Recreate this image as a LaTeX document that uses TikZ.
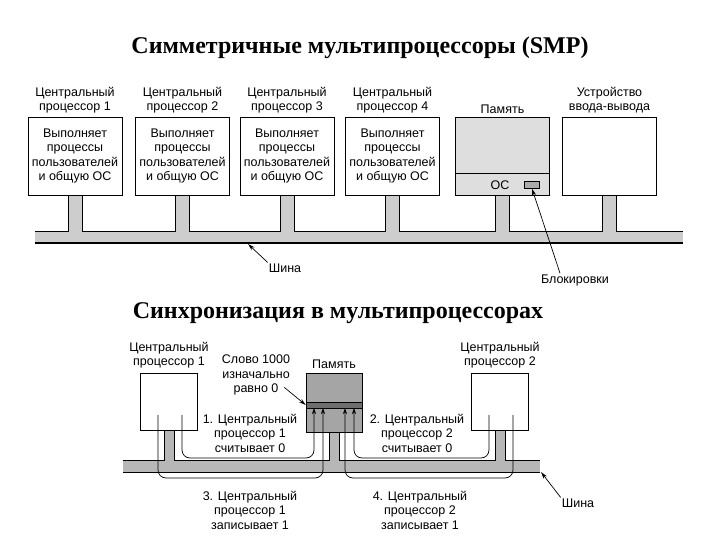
\documentclass[tikz,border=0pt]{standalone}
\usepackage{fontspec}
\setmainfont{Liberation Serif}
\newfontfamily\labelfont{Liberation Sans}
\usetikzlibrary{arrows.meta, positioning}
\definecolor{busgray}{RGB}{205,205,205}
\definecolor{memgray}{RGB}{222,222,222}
\definecolor{dotgray}{RGB}{165,165,165}
\definecolor{bandgray}{RGB}{110,110,110}

\begin{document}
\begin{tikzpicture}[x=1pt, y=-1pt,
          node distance=3pt,
          box/.style={draw, line width=0.8pt, minimum width=94pt, minimum height=78pt,
                      inner sep=0pt, align=center, font=\labelfont\fontsize{12.5}{14.3}\selectfont},
          smallbox/.style={draw, line width=0.8pt, minimum width=57pt, minimum height=57pt, inner sep=0pt},
          lbl/.style={inner sep=1pt, align=center, font=\labelfont\fontsize{12.5}{14.5}\selectfont},
          ttl/.style={inner sep=0pt, font=\bfseries\fontsize{24}{28}\selectfont},
          busbar/.style={minimum height=11pt, inner sep=0pt},
          ptr/.style={-{Stealth[length=7pt, width=4pt]}, line width=0.7pt},
          flow/.style={-{Stealth[length=6pt, width=4pt]}, line width=0.7pt, rounded corners=8pt},
        ]
        \useasboundingbox (0,0) rectangle (720,540);
        \node[ttl] (t1) at (360,48) {Симметричные мультипроцессоры (SMP)};
        \node[box] (p1) at (75,156) {Выполняет\\процессы\\пользователей\\и общую ОС};
        \node[box] (p2) at (182.5,156) {Выполняет\\процессы\\пользователей\\и общую ОС};
        \node[box] (p3) at (287,156) {Выполняет\\процессы\\пользователей\\и общую ОС};
        \node[box] (p4) at (392.5,156) {Выполняет\\процессы\\пользователей\\и общую ОС};
        \node[box, fill=memgray] (mem) at (502.5,156) {};
        \node[box] (io) at (609.5,156) {};
        \node[lbl, above=2pt of p1] {Центральный\\процессор 1};
        \node[lbl, above=2pt of p2] {Центральный\\процессор 2};
        \node[lbl, above=2pt of p3] {Центральный\\процессор 3};
        \node[lbl, above=2pt of p4] {Центральный\\процессор 4};
        \node[lbl, above=2pt of mem] {Память};
        \node[lbl, above=2pt of io] {Устройство\\ввода-вывода};
        \draw[line width=0.8pt] ([yshift=22pt]mem.south west) -- ([yshift=22pt]mem.south east);
        \node[lbl] (os) at (500,185) {ОС};
        \node[draw, fill=gray!65, minimum width=15pt, minimum height=7pt, inner sep=0pt] (lock) at (532,185) {};
        \node[busbar, minimum width=648pt, fill=busgray] (bus) at (359,237.5) {};
        \foreach \b in {p1,p2,p3,p4,mem,io}
          \fill[busgray] ([xshift=-7pt, yshift=-0.4pt]\b.south) rectangle ([xshift=7pt]\b.south |- bus.north);
        \draw[line width=0.8pt] (bus.north west)
          foreach \b in {p1,p2,p3,p4,mem,io} {
            -- ([xshift=-7pt]\b.south |- bus.north) -- ([xshift=-7pt]\b.south)
            ([xshift=7pt]\b.south) -- ([xshift=7pt]\b.south |- bus.north)
          } -- (bus.north east);
        \draw[line width=1.6pt] (bus.south west) -- (bus.south east);
        \node[lbl] (sh1) at (285,268) {Шина};
        \coordinate (bt1) at (248,244);
        \draw[ptr] (sh1.north west) -- (bt1);
        \node[lbl] (bl) at (575,280) {Блокировки};
        \draw[ptr] ([xshift=-15pt]bl.north) -- (lock.south);

        \node[ttl] (t2) at (338,313) {Синхронизация в мультипроцессорах};
        \node[smallbox] (cpuA) at (169,401.5) {};
        \node[smallbox] (cpuB) at (500,401.5) {};
        \node[smallbox, fill=dotgray, minimum width=56pt, minimum height=59pt] (mem2) at (334,402.5) {};
        \node[draw, line width=0.5pt, fill=bandgray, minimum width=56pt, minimum height=6pt, inner sep=0pt] (word) at (334,405) {};
        \node[lbl, above=3pt of cpuA] {Центральный\\процессор 1};
        \node[lbl, above=3pt of cpuB] {Центральный\\процессор 2};
        \node[lbl, above=3pt of mem2] {Память};
        \node[lbl] (wl) at (256,375) {Слово 1000\\изначально\\равно 0};
        \draw[ptr] ([xshift=-7pt, yshift=9pt]wl.south east) -- (word.west);
        \node[busbar, minimum width=417pt, fill=dotgray!80] (bus2) at (331.5,466.5) {};
        \foreach \b in {cpuA,mem2,cpuB}
          \fill[dotgray!80] ([xshift=-5pt, yshift=-0.4pt]\b.south) rectangle ([xshift=5pt]\b.south |- bus2.north);
        \draw[line width=0.8pt] (bus2.north west)
          foreach \b in {cpuA,mem2,cpuB} {
            -- ([xshift=-5pt]\b.south |- bus2.north) -- ([xshift=-5pt]\b.south)
            ([xshift=5pt]\b.south) -- ([xshift=5pt]\b.south |- bus2.north)
          } -- (bus2.north east);
        \draw[line width=1pt] (bus2.south west) -- (bus2.south east);
        \coordinate (r) at (0,458);
        \coordinate (w) at (0,478);
        \coordinate (a1) at (182,415);
        \coordinate (a3) at (158,415);
        \coordinate (b2) at (489,415);
        \coordinate (b4) at (513,415);
        \coordinate (m1) at (314,408);
        \coordinate (m3) at (323,408);
        \coordinate (m4) at (345,408);
        \coordinate (m2) at (354,408);
        \draw[flow] (a1) |- (m1 |- r) -- (m1);
        \draw[flow] (a3) |- (m3 |- w) -- (m3);
        \draw[flow] (b2) |- (m2 |- r) -- (m2);
        \draw[flow] (b4) |- (m4 |- w) -- (m4);
        \node[lbl] (s1) at (250,433) {1. Центральный\\процессор 1\\считывает 0};
        \node[lbl] (s2) at (417,433) {2. Центральный\\процессор 2\\считывает 0};
        \node[lbl] (s3) at (250,510) {3. Центральный\\процессор 1\\записывает 1};
        \node[lbl] (s4) at (420,510) {4. Центральный\\процессор 2\\записывает 1};
        \node[lbl] (sh2) at (578,503) {Шина};
        \coordinate (bt2) at (541,472);
        \draw[ptr] (sh2.north west) -- (bt2);
      \end{tikzpicture}
\end{document}
